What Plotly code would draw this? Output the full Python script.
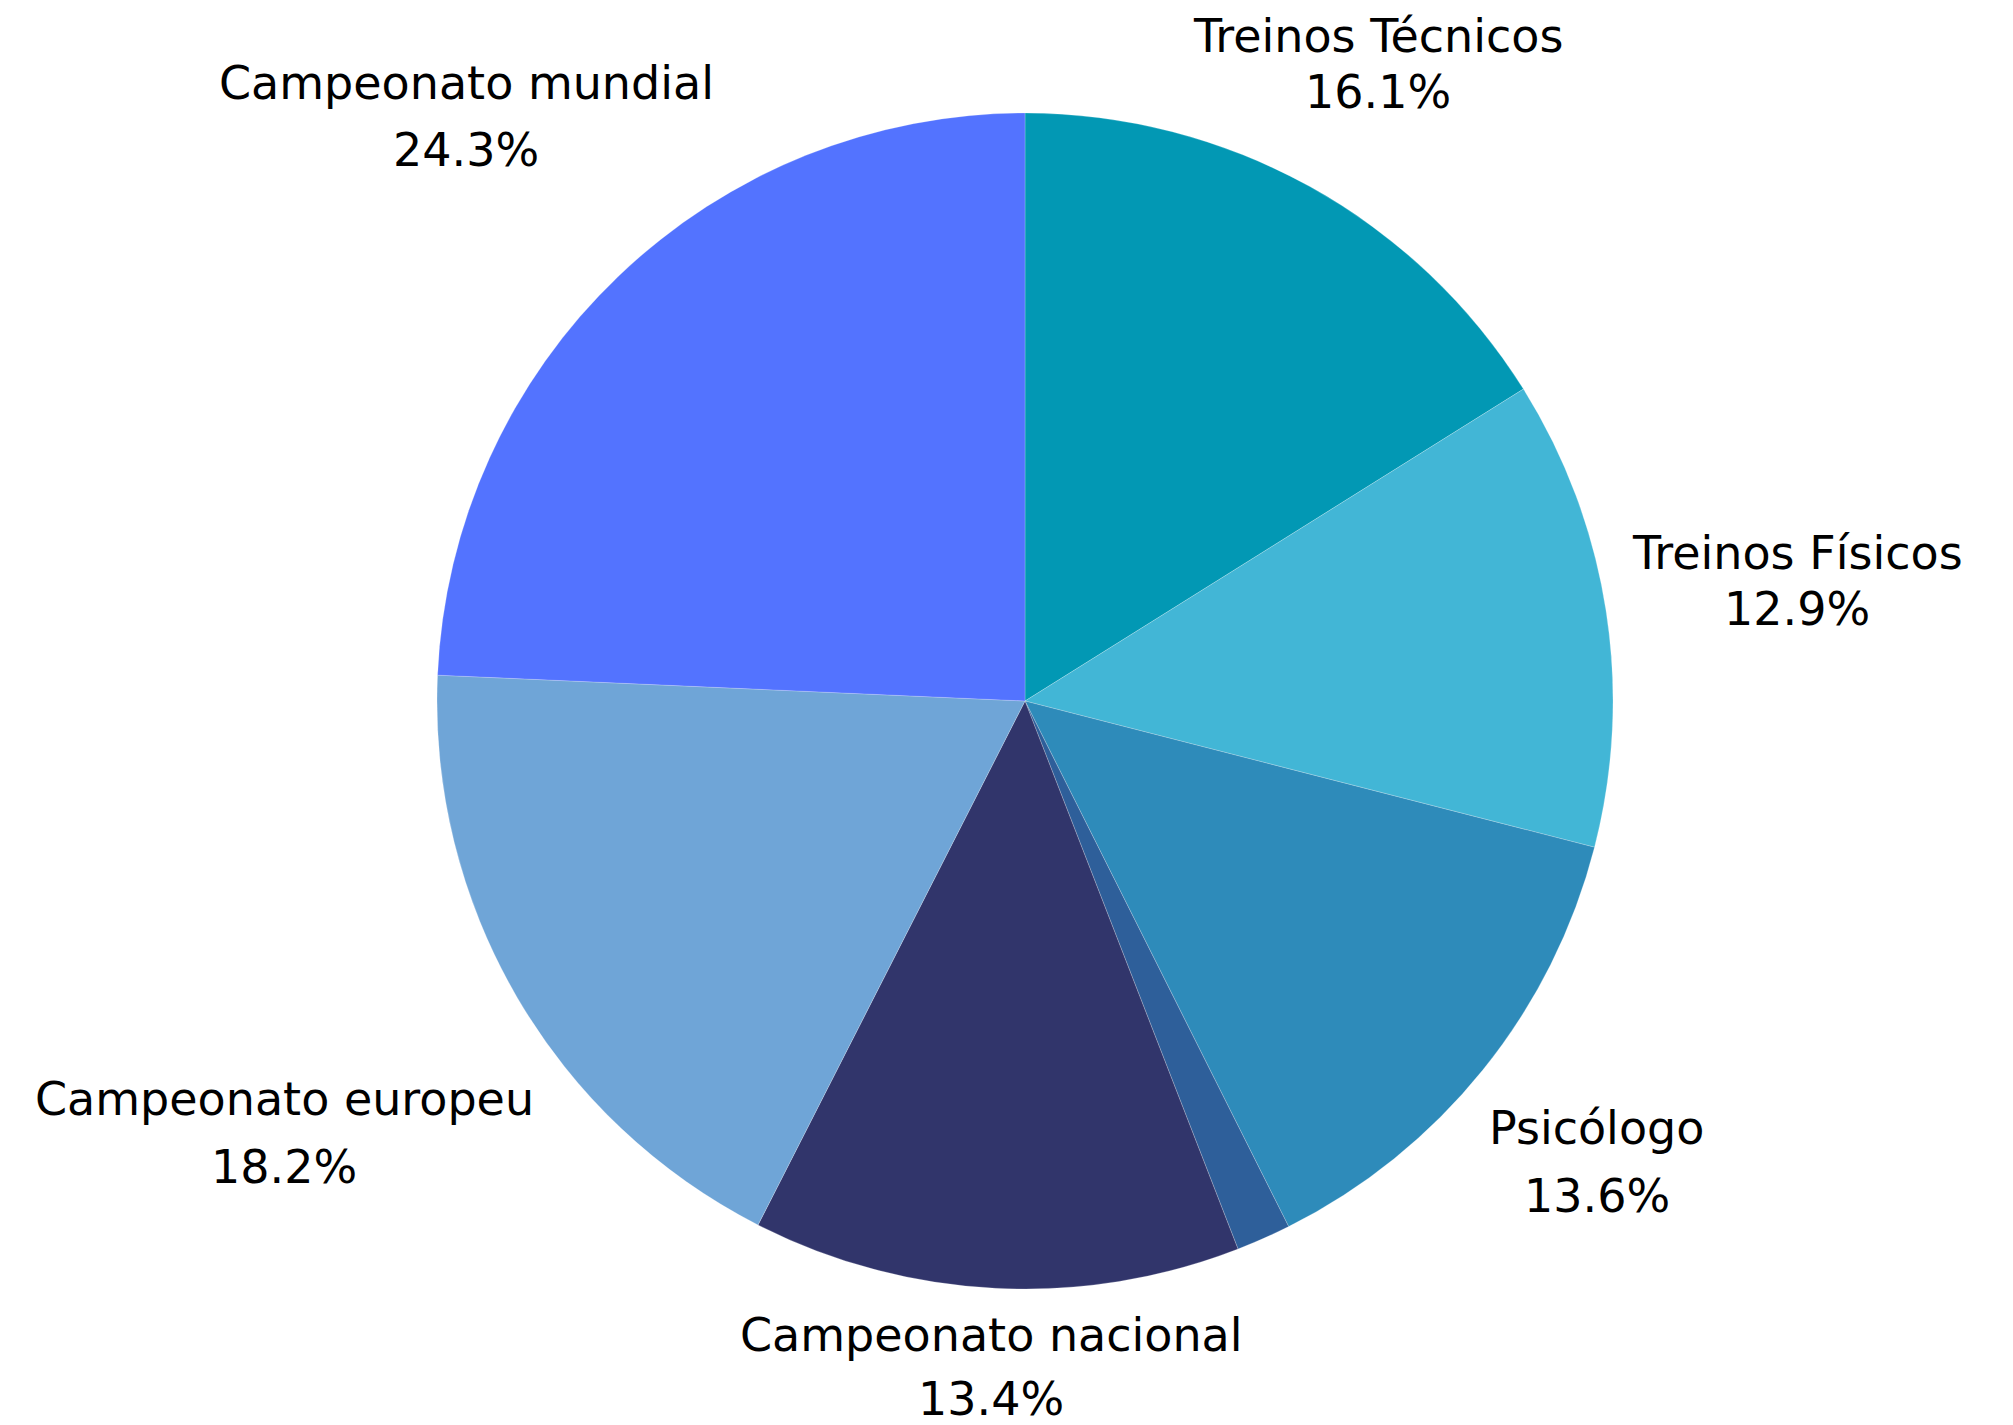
import math
import plotly.graph_objects as go

labels = ["Treinos Técnicos", "Treinos Físicos", "Psicólogo", "Outros",
          "Campeonato nacional", "Campeonato europeu", "Campeonato mundial"]
values = [16.1, 12.9, 13.6, 1.5, 13.4, 18.2, 24.3]
show_label = [True, True, True, False, True, True, True]
colors = ["#0298B4", "#42B6D6", "#2E8BBA", "#2E5F9A", "#31356B", "#6FA5D7", "#5373FF"]

# label placement (style): distance of label centre from pie centre in radii, and gap between lines (px)
label_dist = [1.238, 1.329, 1.249, 0, 1.134, 1.458, 1.375]
line_gap = [56, 56, 68, 0, 64, 68, 67]

W_FIG, H_FIG = 2013, 1425
L, R_M, T, B = 193, 172, 105, 144
W = W_FIG - L - R_M
H = H_FIG - T - B
cx, cy = L + W / 2, T + H / 2
rad = min(W, H) / 2

fig = go.Figure(go.Pie(
    labels=labels,
    values=values,
    sort=False,
    direction="clockwise",
    rotation=0,
    marker=dict(colors=colors, line=dict(color="rgba(255,255,255,0.35)", width=0.6)),
    textinfo="none",
    hoverinfo="label+percent",
    showlegend=False,
))

total = sum(values)
cum = 0.0
font = dict(family="DejaVu Sans", size=46, color="black")
for lab, v, s, f, g in zip(labels, values, show_label, label_dist, line_gap):
    mid = (cum + v / 2) / total * 2 * math.pi
    cum += v
    if not s:
        continue
    px = cx + f * rad * math.sin(mid)
    py = cy - f * rad * math.cos(mid)
    for txt, yy in ((lab, py - g / 2), (f"{v / total * 100:.1f}%", py + g / 2)):
        fig.add_annotation(
            x=(px - L) / W, y=1 - (yy - T) / H,
            xref="paper", yref="paper",
            text=txt, showarrow=False,
            xanchor="center", yanchor="middle",
            font=font,
        )

fig.update_layout(
    width=W_FIG, height=H_FIG,
    margin=dict(l=L, r=R_M, t=T, b=B),
    paper_bgcolor="white",
    plot_bgcolor="white",
)

fig.write_html("out.html")
